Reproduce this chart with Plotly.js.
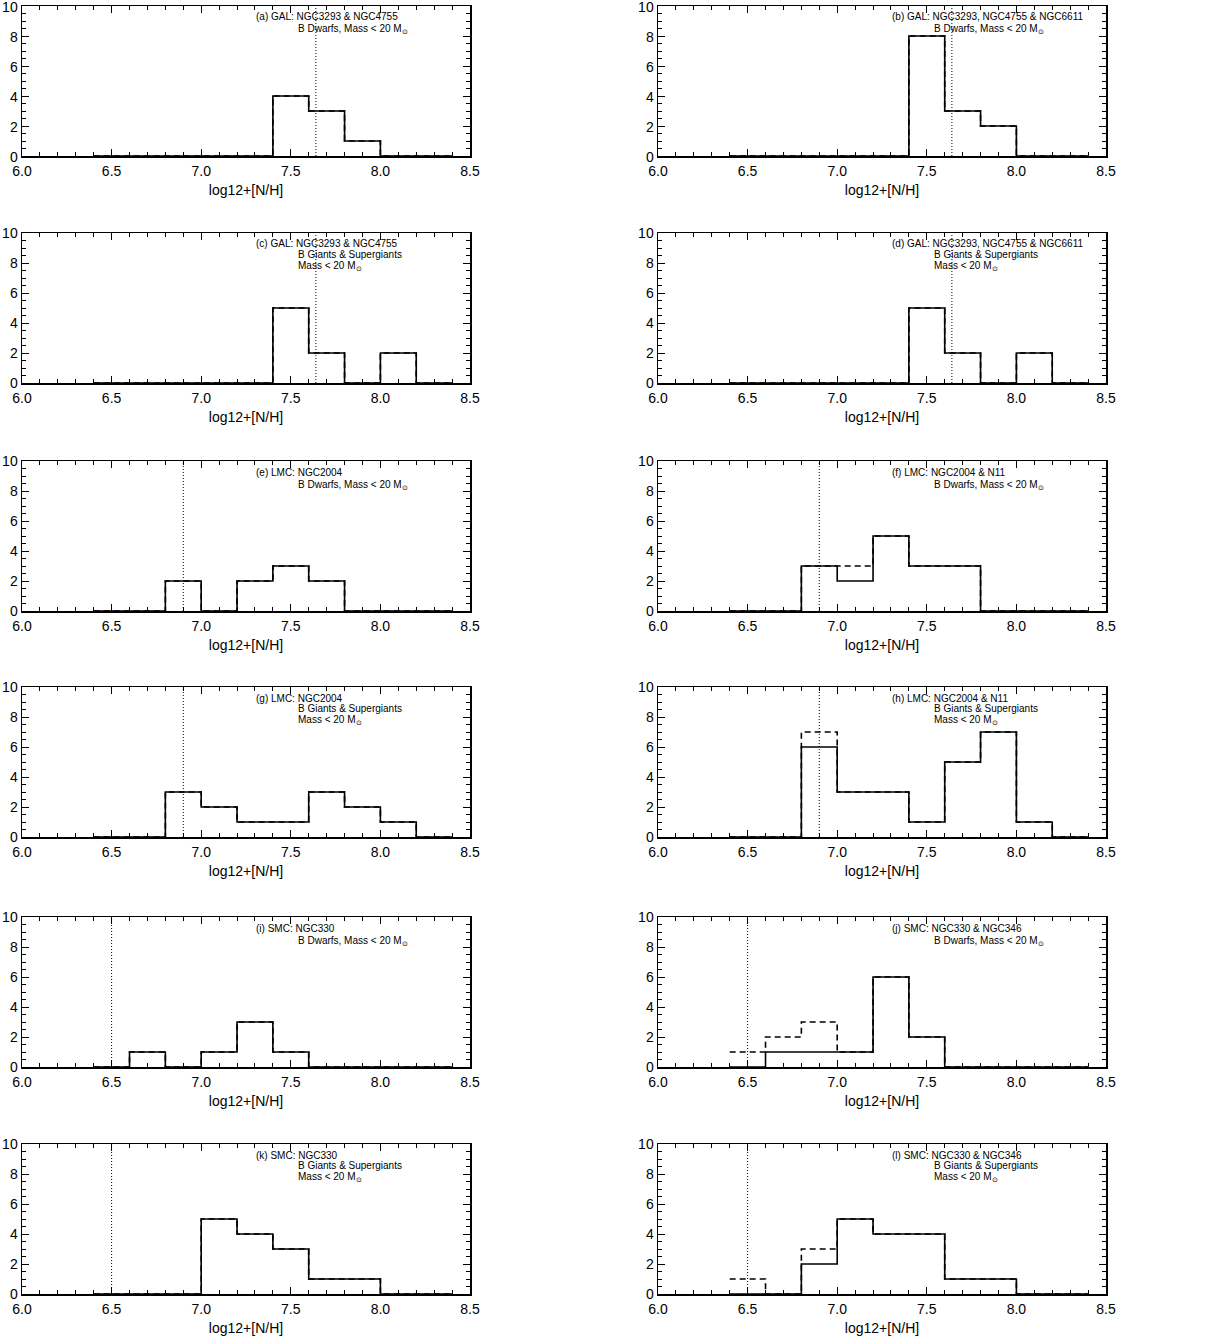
<!DOCTYPE html>
<html>
<head>
<meta charset="utf-8">
<script src="https://cdn.plot.ly/plotly-3.0.1.min.js"></script>
<style>
  html, body { margin: 0; padding: 0; background: #fff; }
  #chart { width: 1231px; height: 1340px; }
</style>
</head>
<body>
<div id="chart"></div>
<script>
// Bin edges of the nitrogen-abundance histograms (0.2 dex bins)
const binEdges = [6.4, 6.6, 6.8, 7.0, 7.2, 7.4, 7.6, 7.8, 8.0, 8.2, 8.4];

// Baseline nitrogen abundances (dotted lines)
const refGal = 7.64;
const refLmc = 6.90;
const refSmc = 6.50;

// Counts per bin: solid = observed sample, dashed = including limits
const aSolid  = [0, 0, 0, 0, 0, 4, 3, 1, 0, 0];
const aDashed = [0, 0, 0, 0, 0, 4, 3, 1, 0, 0];
const bSolid  = [0, 0, 0, 0, 0, 8, 3, 2, 0, 0];
const bDashed = [0, 0, 0, 0, 0, 8, 3, 2, 0, 0];
const cSolid  = [0, 0, 0, 0, 0, 5, 2, 0, 2, 0];
const cDashed = [0, 0, 0, 0, 0, 5, 2, 0, 2, 0];
const dSolid  = [0, 0, 0, 0, 0, 5, 2, 0, 2, 0];
const dDashed = [0, 0, 0, 0, 0, 5, 2, 0, 2, 0];
const eSolid  = [0, 0, 2, 0, 2, 3, 2, 0, 0, 0];
const eDashed = [0, 0, 2, 0, 2, 3, 2, 0, 0, 0];
const fSolid  = [0, 0, 3, 2, 5, 3, 3, 0, 0, 0];
const fDashed = [0, 0, 3, 3, 5, 3, 3, 0, 0, 0];
const gSolid  = [0, 0, 3, 2, 1, 1, 3, 2, 1, 0];
const gDashed = [0, 0, 3, 2, 1, 1, 3, 2, 1, 0];
const hSolid  = [0, 0, 6, 3, 3, 1, 5, 7, 1, 0];
const hDashed = [0, 0, 7, 3, 3, 1, 5, 7, 1, 0];
const iSolid  = [0, 1, 0, 1, 3, 1, 0, 0, 0, 0];
const iDashed = [0, 1, 0, 1, 3, 1, 0, 0, 0, 0];
const jSolid  = [0, 1, 1, 1, 6, 2, 0, 0, 0, 0];
const jDashed = [1, 2, 3, 1, 6, 2, 0, 0, 0, 0];
const kSolid  = [0, 0, 0, 5, 4, 3, 1, 1, 0, 0];
const kDashed = [0, 0, 0, 5, 4, 3, 1, 1, 0, 0];
const lSolid  = [0, 0, 2, 5, 4, 4, 1, 1, 0, 0];
const lDashed = [1, 0, 3, 5, 4, 4, 1, 1, 0, 0];

// Panel captions
const msun = 'M<sub>⊙</sub>';
const panels = [
  { title: '(a) GAL: NGC3293 & NGC4755', sub: ['B Dwarfs, Mass < 20 ' + msun], solid: aSolid, dashed: aDashed, ref: refGal },
  { title: '(b) GAL: NGC3293, NGC4755 & NGC6611', sub: ['B Dwarfs, Mass < 20 ' + msun], solid: bSolid, dashed: bDashed, ref: refGal },
  { title: '(c) GAL: NGC3293 & NGC4755', sub: ['B Giants & Supergiants', 'Mass < 20 ' + msun], solid: cSolid, dashed: cDashed, ref: refGal },
  { title: '(d) GAL: NGC3293, NGC4755 & NGC6611', sub: ['B Giants & Supergiants', 'Mass < 20 ' + msun], solid: dSolid, dashed: dDashed, ref: refGal },
  { title: '(e) LMC: NGC2004', sub: ['B Dwarfs, Mass < 20 ' + msun], solid: eSolid, dashed: eDashed, ref: refLmc },
  { title: '(f) LMC: NGC2004 & N11', sub: ['B Dwarfs, Mass < 20 ' + msun], solid: fSolid, dashed: fDashed, ref: refLmc },
  { title: '(g) LMC: NGC2004', sub: ['B Giants & Supergiants', 'Mass < 20 ' + msun], solid: gSolid, dashed: gDashed, ref: refLmc },
  { title: '(h) LMC: NGC2004 & N11', sub: ['B Giants & Supergiants', 'Mass < 20 ' + msun], solid: hSolid, dashed: hDashed, ref: refLmc },
  { title: '(i) SMC: NGC330', sub: ['B Dwarfs, Mass < 20 ' + msun], solid: iSolid, dashed: iDashed, ref: refSmc },
  { title: '(j) SMC: NGC330 & NGC346', sub: ['B Dwarfs, Mass < 20 ' + msun], solid: jSolid, dashed: jDashed, ref: refSmc },
  { title: '(k) SMC: NGC330', sub: ['B Giants & Supergiants', 'Mass < 20 ' + msun], solid: kSolid, dashed: kDashed, ref: refSmc },
  { title: '(l) SMC: NGC330 & NGC346', sub: ['B Giants & Supergiants', 'Mass < 20 ' + msun], solid: lSolid, dashed: lDashed, ref: refSmc }
];

// Layout geometry in pixels
const W = 1231, H = 1340;
const colLeft = [22, 658];
const plotW = 448;
const rowTop = [6, 233, 461, 687, 917, 1144];
const plotH = 150;

const FONT = 'Liberation Sans, Arial, Helvetica, sans-serif';
const traces = [];
const layout = {
  width: W, height: H,
  margin: { l: 0, r: 0, t: 0, b: 0 },
  paper_bgcolor: '#fff', plot_bgcolor: '#fff',
  showlegend: false,
  font: { family: FONT, color: '#000' },
  annotations: [], shapes: []
};

// Step line: one value per bin, last value repeated to close the final bin
function stepY(counts) { return counts.concat([counts[counts.length - 1]]); }

panels.forEach((p, k) => {
  const row = Math.floor(k / 2), col = k % 2;
  const n = k + 1;
  const xa = 'x' + (n === 1 ? '' : n), ya = 'y' + (n === 1 ? '' : n);
  const xKey = 'xaxis' + (n === 1 ? '' : n), yKey = 'yaxis' + (n === 1 ? '' : n);

  const x0 = colLeft[col] / W, x1 = (colLeft[col] + plotW) / W;
  const y1 = 1 - rowTop[row] / H, y0 = 1 - (rowTop[row] + plotH) / H;

  layout[xKey] = {
    domain: [x0, x1], anchor: ya, range: [6.0, 8.5],
    tick0: 6.0, dtick: 0.5, tickformat: '.1f',
    ticks: 'inside', ticklen: 7, tickwidth: 1, tickcolor: '#000',
    minor: { dtick: 0.1, ticks: 'inside', ticklen: 4, tickwidth: 1, tickcolor: '#000' },
    showline: true, linecolor: '#000', linewidth: 1.5, mirror: 'allticks',
    showgrid: false, zeroline: false,
    tickfont: { family: FONT, size: 14, color: '#000' },
    ticklabelstandoff: 2,
    title: { text: 'log12+[N/H]', font: { family: FONT, size: 14, color: '#000' }, standoff: 7 },
    fixedrange: true
  };
  layout[yKey] = {
    domain: [y0, y1], anchor: xa, range: [0, 10],
    tick0: 0, dtick: 2,
    ticks: 'inside', ticklen: 7, tickwidth: 1, tickcolor: '#000',
    minor: { dtick: 0.5, ticks: 'inside', ticklen: 4, tickwidth: 1, tickcolor: '#000' },
    showline: true, linecolor: '#000', linewidth: 1.5, mirror: 'allticks',
    showgrid: false, zeroline: false,
    tickfont: { family: FONT, size: 14, color: '#000' },
    ticklabeloverflow: 'allow',
    ticklabelshift: row === 0 ? 1 : 0,
    fixedrange: true
  };

  traces.push({
    x: binEdges, y: stepY(p.solid), xaxis: xa, yaxis: ya,
    type: 'scatter', mode: 'lines', line: { shape: 'hv', color: '#000', width: 1.6 },
    hoverinfo: 'skip', cliponaxis: false
  });
  traces.push({
    x: binEdges, y: stepY(p.dashed), xaxis: xa, yaxis: ya,
    type: 'scatter', mode: 'lines', line: { shape: 'hv', color: '#000', width: 1.6, dash: '6px,4px' },
    hoverinfo: 'skip', cliponaxis: false
  });

  layout.shapes.push({
    type: 'line', xref: xa, yref: ya + ' domain',
    x0: p.ref, x1: p.ref, y0: 0, y1: 1,
    line: { color: '#000', width: 1, dash: '1px,2px' }
  });

  const annFont = { family: FONT, size: 10, color: '#000' };
  layout.annotations.push({
    xref: xa, yref: ya + ' domain', x: 7.295, y: 1, yshift: -11,
    xanchor: 'left', yanchor: 'middle', showarrow: false,
    text: p.title, font: annFont
  });
  const shifts = p.sub.length === 1 ? [-23.5] : [-21.5, -33];
  p.sub.forEach((t, i) => {
    layout.annotations.push({
      xref: xa, yref: ya + ' domain', x: 7.529, y: 1, yshift: shifts[i],
      xanchor: 'left', yanchor: 'middle', showarrow: false,
      text: t, font: annFont
    });
  });
});

Plotly.newPlot('chart', traces, layout, { displayModeBar: false, staticPlot: true });
</script>
</body>
</html>
